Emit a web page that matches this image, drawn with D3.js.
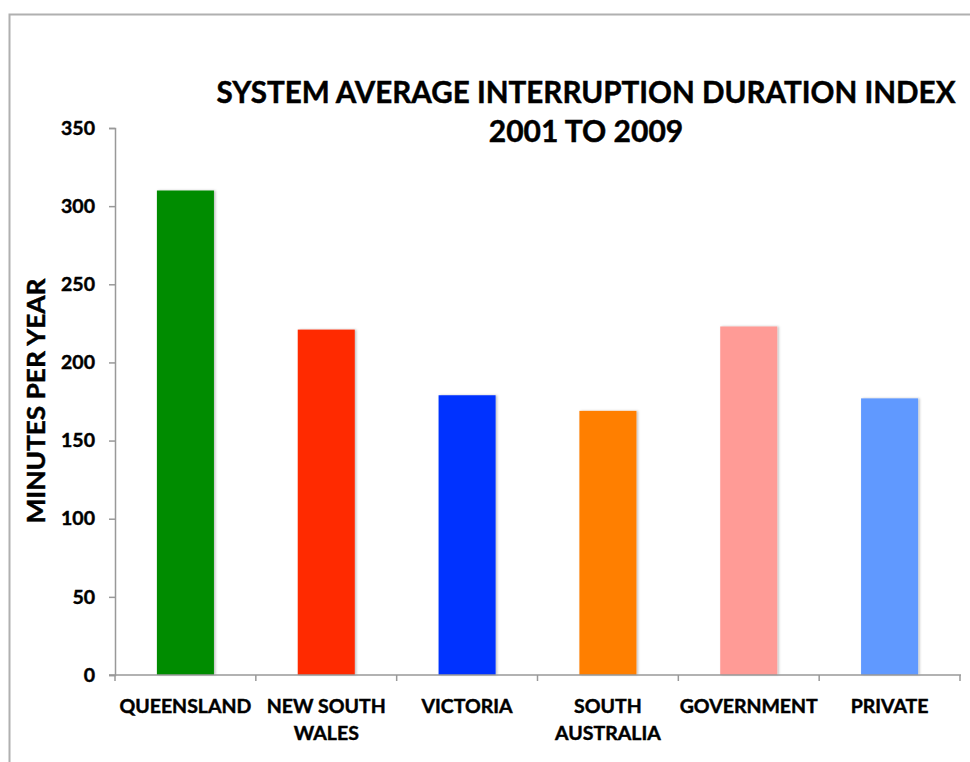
<!DOCTYPE html>
<html>
<head>
<meta charset="utf-8">
<script src="https://cdn.jsdelivr.net/npm/d3@7"></script>
<style>
  body { margin:0; background:#fff; }
  svg text { font-family: Lato, "Open Sans", sans-serif; font-weight:bold; fill:#000; stroke:#000; stroke-width:0.45px; }
</style>
</head>
<body>
<svg id="chart" width="970" height="762"></svg>
<script>
//Chart data
var categories = [["QUEENSLAND"], ["NEW SOUTH", "WALES"], ["VICTORIA"], ["SOUTH", "AUSTRALIA"], ["GOVERNMENT"], ["PRIVATE"]];
var values     = [310, 221, 179, 169, 223, 177];
var barColors  = ["#008c00", "#ff2a00", "#0433ff", "#ff7f00", "#ff9b96", "#6199ff"];
var yTicks     = [0, 50, 100, 150, 200, 250, 300, 350];
var titleLines = ["SYSTEM AVERAGE INTERRUPTION DURATION INDEX", "2001 TO 2009"];
var yTitle     = "MINUTES PER YEAR";

var svg = d3.select('#chart');
var ml = 115, mr = 960, mt = 128, mb = 675;

//Outer border
svg.append('rect')
    .attr('x', 9.5).attr('y', 14.5)
    .attr('width', 980).attr('height', 780)
    .attr('fill', 'none').attr('stroke', '#b0b0b0').attr('stroke-width', 2);

//Shadow for bars
var f = svg.append('defs').append('filter').attr('id', 'shadow')
    .attr('x', '-10%').attr('y', '-5%').attr('width', '125%').attr('height', '110%');
f.append('feDropShadow').attr('dx', 1.5).attr('dy', 0).attr('stdDeviation', 1.2)
    .attr('flood-color', '#000').attr('flood-opacity', 0.25);

var x = d3.scaleBand().domain(d3.range(categories.length)).range([ml, mr]).padding(0);
var y = d3.scaleLinear().domain([0, 350]).range([mb, mt]);
var bw = x.bandwidth() * 0.405;

//Bars
svg.append('g').selectAll('rect')
    .data(values)
    .enter().append('rect')
    .attr('x', function(d, i){ return x(i) + (x.bandwidth() - bw) / 2; })
    .attr('y', function(d){ return y(d); })
    .attr('width', bw)
    .attr('height', function(d){ return y(0) - y(d); })
    .attr('fill', function(d, i){ return barColors[i]; })
    .attr('filter', 'url(#shadow)');

//Y axis
var ya = svg.append('g').attr('transform', 'translate(' + ml + ',0)')
    .call(d3.axisLeft(y).tickValues(yTicks).tickSize(6).tickPadding(14));
ya.selectAll('path, line').attr('stroke', '#999').attr('stroke-width', 1.5);
ya.selectAll('text').style('font-size', '19.5px');

//X axis
var xa = svg.append('g').attr('transform', 'translate(0,' + mb + ')');
xa.append('line').attr('x1', ml - 6).attr('x2', mr + 1).attr('y1', 0).attr('y2', 0)
    .attr('stroke', '#999').attr('stroke-width', 1.5);
xa.selectAll('line.tk')
    .data(d3.range(categories.length + 1))
    .enter().append('line')
    .attr('class', 'tk')
    .attr('x1', function(d){ return ml + d * x.step(); })
    .attr('x2', function(d){ return ml + d * x.step(); })
    .attr('y1', 0).attr('y2', 6)
    .attr('stroke', '#999').attr('stroke-width', 1.5);

//Category labels
var lbl = svg.append('g').selectAll('text')
    .data(categories)
    .enter().append('text')
    .attr('text-anchor', 'middle')
    .style('font-size', '19.5px');
lbl.each(function(d, i){
    var t = d3.select(this);
    d.forEach(function(line, j){
        t.append('tspan')
            .attr('x', x(i) + x.bandwidth() / 2)
            .attr('y', 713 + j * 27)
            .text(line);
    });
});

//Title
svg.append('text').attr('x', 586).attr('y', 103).attr('text-anchor', 'middle')
    .attr('textLength', 739).attr('lengthAdjust', 'spacingAndGlyphs')
    .style('font-size', '30px').text(titleLines[0]);
svg.append('text').attr('x', 586).attr('y', 142).attr('text-anchor', 'middle')
    .style('font-size', '30px').text(titleLines[1]);

//Y title
svg.append('text')
    .attr('transform', 'translate(45,401) rotate(-90)')
    .attr('text-anchor', 'middle')
    .attr('textLength', 245).attr('lengthAdjust', 'spacingAndGlyphs')
    .style('font-size', '25px')
    .text(yTitle);
</script>
</body>
</html>
